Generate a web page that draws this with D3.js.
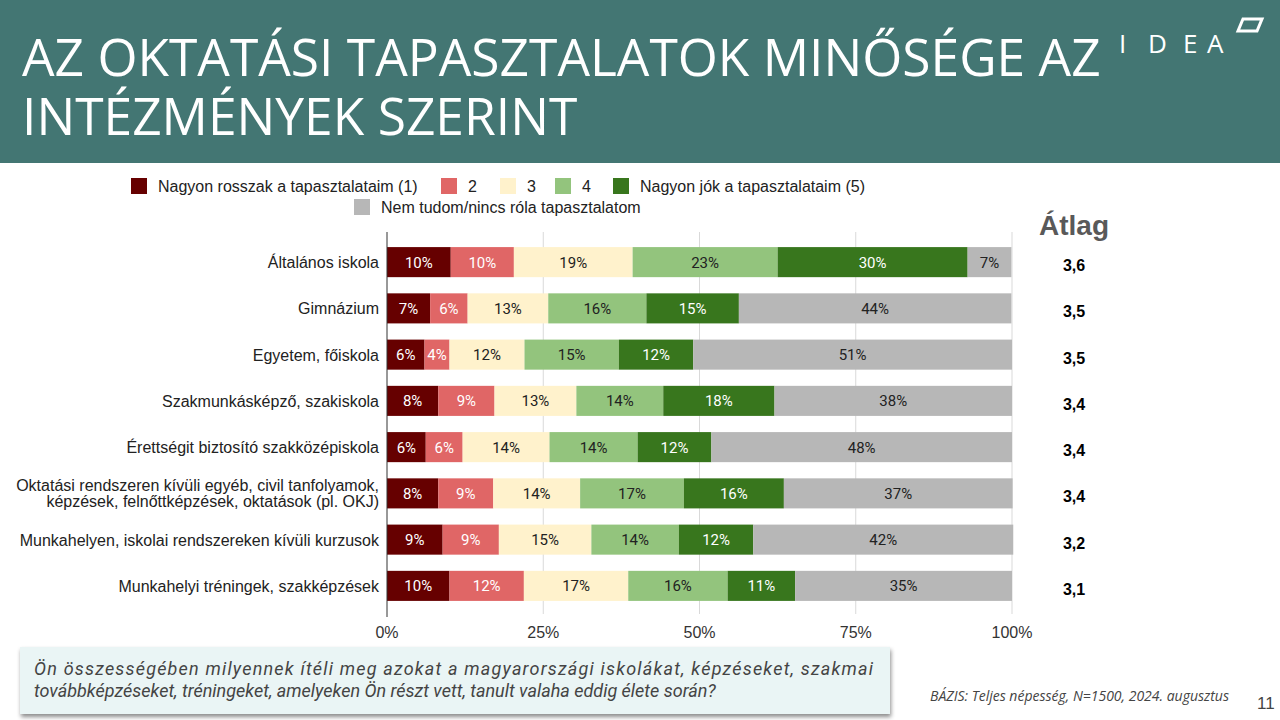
<!DOCTYPE html>
<html><head><meta charset="utf-8">
<script src="https://cdn.jsdelivr.net/npm/d3@7"></script>
<style>
html,body{margin:0;padding:0;background:#fff;}
svg{display:block;}
</style></head>
<body>
<svg id="chart" width="1280" height="720"></svg>
<script>
const categories = [
  ["Általános iskola"],
  ["Gimnázium"],
  ["Egyetem, főiskola"],
  ["Szakmunkásképző, szakiskola"],
  ["Érettségit biztosító szakközépiskola"],
  ["Oktatási rendszeren kívüli egyéb, civil tanfolyamok,", "képzések, felnőttképzések, oktatások (pl. OKJ)"],
  ["Munkahelyen, iskolai rendszereken kívüli kurzusok"],
  ["Munkahelyi tréningek, szakképzések"]
];
const seriesNames = ["Nagyon rosszak a tapasztalataim (1)", "2", "3", "4", "Nagyon jók a tapasztalataim (5)", "Nem tudom/nincs róla tapasztalatom"];
const s1 = [10.2, 6.9, 6.0, 8.2, 6.2, 8.2, 8.9, 10.0];
const s2 = [10.1, 6.0, 4.0, 9.0, 5.9, 8.8, 9.0, 11.9];
const s3 = [19.0, 12.9, 12.0, 13.1, 13.9, 13.9, 14.8, 16.7];
const s4 = [23.2, 15.7, 15.1, 13.9, 14.1, 16.6, 14.0, 15.9];
const s5 = [30.4, 14.8, 11.9, 17.8, 11.8, 16.0, 11.9, 10.8];
const s6 = [7.0, 43.6, 51.0, 38.0, 48.1, 36.6, 41.6, 34.7];
const averages = ["3,6", "3,5", "3,5", "3,4", "3,4", "3,4", "3,2", "3,1"];
const xTicks = [0, 25, 50, 75, 100];
const colors = ["#660000", "#e06666", "#fff2cc", "#93c47d", "#38761d", "#b7b7b7"];
const labelColors = ["#ffffff", "#ffffff", "#222222", "#222222", "#ffffff", "#222222"];

const svg = d3.select("#chart");

// Header
svg.append("rect").attr("x",0).attr("y",0).attr("width",1280).attr("height",163).attr("fill","#437673");
const titleLines = ["AZ OKTATÁSI TAPASZTALATOK MINŐSÉGE AZ", "INTÉZMÉNYEK SZERINT"];
svg.append("g").selectAll("text").data(titleLines).join("text")
  .attr("x", 22).attr("y", (d,i)=>76 + i*59)
  .attr("font-family","Open Sans").attr("font-size",51.5).attr("fill","#fff")
  .text(d=>d);
// Logo
const logoLetters = ["I","D","E","A"];
const logoX = [1119, 1148, 1183, 1207];
svg.append("g").selectAll("text").data(logoLetters).join("text")
  .attr("x",(d,i)=>logoX[i]).attr("y",53).attr("font-family","Open Sans").attr("font-size",26)
  .attr("fill","#fff").text(d=>d);
svg.append("path").attr("d","M1243,19 L1262,19 L1257,31 L1238,31 Z")
  .attr("fill","none").attr("stroke","#fff").attr("stroke-width",3);

// Chart
const x = d3.scaleLinear().domain([0,100]).range([387,1012]);
const y = d3.scaleBand().domain(d3.range(categories.length)).range([239,609]).paddingInner(0.35).paddingOuter(0.175);

const gGrid = svg.append("g");
gGrid.selectAll("line").data(xTicks.slice(1)).join("line")
  .attr("x1",d=>x(d)).attr("x2",d=>x(d)).attr("y1",232).attr("y2",614)
  .attr("stroke","#d9d9d9").attr("stroke-width",1);

const data = categories.map((c,i)=>({i, vals:[s1[i],s2[i],s3[i],s4[i],s5[i],s6[i]]}));
const keys = d3.range(6);
const stack = d3.stack().keys(keys).value((d,k)=>d.vals[k]);
const stacked = stack(data);

const gBars = svg.append("g");
stacked.forEach((layer,k)=>{
  const g = gBars.append("g");
  g.selectAll("rect").data(layer).join("rect")
    .attr("x", d=>x(d[0])).attr("width", d=>x(d[1])-x(d[0]))
    .attr("y", (d,i)=>y(i)).attr("height", y.bandwidth())
    .attr("fill", colors[k]);
  g.selectAll("text").data(layer).join("text")
    .attr("x", d=>(x(d[0])+x(d[1]))/2).attr("y",(d,i)=>y(i)+y.bandwidth()/2+5.5)
    .attr("text-anchor","middle").attr("font-family","Roboto").attr("font-size",15)
    .attr("fill", labelColors[k]).text(d=>Math.round(d[1]-d[0])+"%");
});

// axis line
svg.append("line").attr("x1",x(0)).attr("x2",x(0)).attr("y1",232).attr("y2",617).attr("stroke","#333").attr("stroke-width",1);

// x ticks
svg.append("g").selectAll("text").data(xTicks).join("text")
  .attr("x",d=>x(d)).attr("y",638).attr("text-anchor","middle")
  .attr("font-family","Liberation Sans, Arial").attr("font-size",16).attr("fill","#333")
  .text(d=>d+"%");

// category labels
const gCat = svg.append("g");
categories.forEach((lines,i)=>{
  const cy = y(i)+y.bandwidth()/2;
  const t = gCat.append("text").attr("text-anchor","end").attr("font-family","Liberation Sans, Arial")
    .attr("font-size",16).attr("fill","#222");
  lines.forEach((ln,j)=>{
    t.append("tspan").attr("x",379).attr("y", cy + 6 + (j - (lines.length-1)/2)*16).text(ln);
  });
});

// Átlag
svg.append("text").attr("x",1074).attr("y",235).attr("text-anchor","middle")
  .attr("font-family","Liberation Sans, Arial").attr("font-weight","bold").attr("font-size",28)
  .attr("fill","#595959").text("Átlag");
svg.append("g").selectAll("text").data(averages).join("text")
  .attr("x",1074).attr("y",(d,i)=>y(i)+y.bandwidth()/2+9).attr("text-anchor","middle")
  .attr("font-family","Liberation Sans, Arial").attr("font-weight","bold").attr("font-size",16)
  .attr("fill","#000").text(d=>d);

// Legend
const legendPos = [[131,186],[441,186],[500,186],[555,186],[613,186],[354,207]];
const gLeg = svg.append("g");
seriesNames.forEach((n,k)=>{
  const [lx,ly] = legendPos[k];
  gLeg.append("rect").attr("x",lx).attr("y",ly-8).attr("width",16).attr("height",16).attr("fill",colors[k]);
  gLeg.append("text").attr("x",lx+27).attr("y",ly+6).attr("font-family","Liberation Sans, Arial")
    .attr("font-size",16).attr("fill","#222").text(n);
});

// Question box
const defs = svg.append("defs");
const f = defs.append("filter").attr("id","sh").attr("x","-5%").attr("y","-20%").attr("width","110%").attr("height","150%");
f.append("feDropShadow").attr("dx",1).attr("dy",3).attr("stdDeviation",2).attr("flood-color","#000").attr("flood-opacity",0.45);
svg.append("rect").attr("x",20).attr("y",647).attr("width",870).attr("height",67).attr("fill","#eaf5f5").attr("filter","url(#sh)");
svg.append("text").attr("x",34).attr("y",675).attr("font-family","Roboto").attr("font-style","italic")
  .attr("font-size",18).attr("fill","#444").attr("textLength",839).attr("lengthAdjust","spacing")
  .text("Ön összességében milyennek ítéli meg azokat a magyarországi iskolákat, képzéseket, szakmai");
svg.append("text").attr("x",34).attr("y",697).attr("font-family","Roboto").attr("font-style","italic")
  .attr("font-size",18).attr("fill","#444")
  .text("továbbképzéseket, tréningeket, amelyeken Ön részt vett, tanult valaha eddig élete során?");

// Footer
svg.append("text").attr("x",930).attr("y",701).attr("font-family","Open Sans").attr("font-style","italic")
  .attr("font-size",14).attr("fill","#444").text("BÁZIS: Teljes népesség, N=1500, 2024. augusztus");
svg.append("text").attr("x",1257).attr("y",709).attr("font-family","Liberation Sans, Arial")
  .attr("font-size",17).attr("fill","#444").text("11");
</script>
</body></html>
